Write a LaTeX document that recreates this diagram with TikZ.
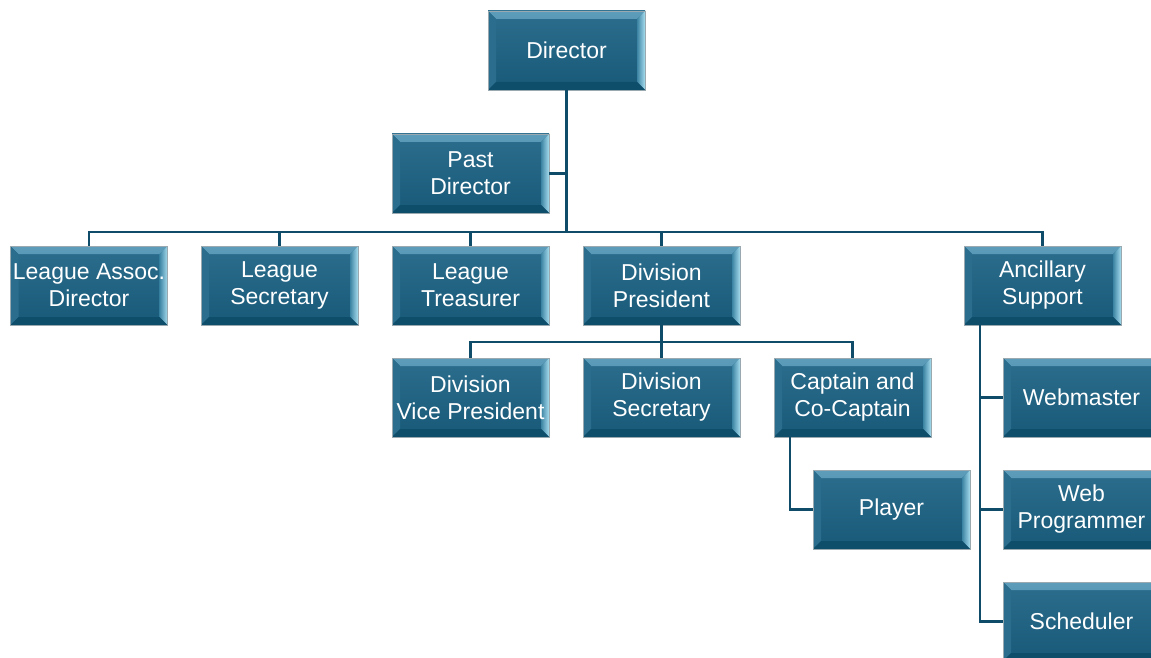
\documentclass[tikz,border=0pt]{standalone}
\usepackage{fontspec}
\setmainfont{Liberation Sans}
\usetikzlibrary{calc}
\definecolor{boxbody}{HTML}{1A6183}
\definecolor{boxtop}{HTML}{5E9DBA}
\definecolor{boxtopin}{HTML}{2D7193}
\definecolor{boxright}{HTML}{A6DCEE}
\definecolor{boxrightin}{HTML}{3C84A3}
\definecolor{boxleft}{HTML}{2A6D8D}
\definecolor{boxbottom}{HTML}{0F4E6B}
\definecolor{boxline}{HTML}{9AA8B0}
\definecolor{conncol}{HTML}{0F4C69}
\tikzset{
  x=1pt, y=1pt,
  orgbox/.style={minimum width=157pt, minimum height=79pt, inner sep=0pt,
    align=center, text=white, font=\fontsize{23}{27}\selectfont,
    top color=boxbody!92!white, bottom color=boxbody!92!black,
    draw=boxline, line width=0.6pt,
    path picture={
      \def\bv{8pt}
      \shade[top color=boxtop, bottom color=boxtopin] (path picture bounding box.north west) -- (path picture bounding box.north east)
        -- ([shift={(-\bv,-\bv)}]path picture bounding box.north east) -- ([shift={(\bv,-\bv)}]path picture bounding box.north west) -- cycle;
      \fill[boxleft] (path picture bounding box.north west) -- ([shift={(\bv,-\bv)}]path picture bounding box.north west)
        -- ([shift={(\bv,\bv)}]path picture bounding box.south west) -- (path picture bounding box.south west) -- cycle;
      \shade[left color=boxrightin, right color=boxright] (path picture bounding box.north east) -- ([shift={(-\bv,-\bv)}]path picture bounding box.north east)
        -- ([shift={(-\bv,\bv)}]path picture bounding box.south east) -- (path picture bounding box.south east) -- cycle;
      \fill[boxbottom] (path picture bounding box.south west) -- ([shift={(\bv,\bv)}]path picture bounding box.south west)
        -- ([shift={(-\bv,\bv)}]path picture bounding box.south east) -- (path picture bounding box.south east) -- cycle;
    }},
  conn/.style={draw=conncol, line width=2.6pt},
  trunk/.style={draw=conncol, line width=3.2pt}
}
\begin{document}
\begin{tikzpicture}
\useasboundingbox (0,0) rectangle (1151,-658);
% nodes
\node[orgbox] (dir) at (566.5,-50.5) {Director};
\node[orgbox] (pd) at (470.5,-173.5) {Past\\Director};
\node[orgbox] (lad) at (89,-285.5) {League Assoc.\\Director};
\node[orgbox] (ls) at (279.5,-285.5) {League\\Secretary};
\node[orgbox] (lt) at (470.5,-285.5) {League\\Treasurer};
\node[orgbox] (dp) at (661.5,-285.5) {Division\\President};
\node[orgbox] (as) at (1042.5,-285.5) {Ancillary\\Support};
\node[orgbox] (dvp) at (470.5,-397.5) {Division\\Vice President};
\node[orgbox] (dsec) at (661.5,-397.5) {Division\\Secretary};
\node[orgbox] (cap) at (852.5,-397.5) {Captain and\\Co-Captain};
\node[orgbox] (pl) at (891.5,-509.5) {Player};
\node[orgbox] (wm) at (1081.5,-397.5) {Webmaster};
\node[orgbox] (wp) at (1081.5,-509.5) {Web\\Programmer};
\node[orgbox] (sch) at (1081.5,-621.5) {Scheduler};
% connector points
\coordinate (bus) at (566.5,-232);
\coordinate (dbus) at (661.5,-342);
\coordinate (capx) at (790,-437);
\coordinate (asx) at (980,-325);
% connectors
\draw[trunk] (dir.south) -- (bus);
\draw[conn] (pd.east) -- (pd.east -| dir.south);
\draw[conn] (bus) -| (lad.north);
\draw[conn] (bus) -| (ls.north);
\draw[conn] (bus) -| (lt.north);
\draw[conn] (bus) -| (dp.north);
\draw[conn] (bus) -| (as.north);
\draw[conn] (dp.south) -- (dbus);
\draw[conn] (dbus) -| (dvp.north);
\draw[conn] (dbus) -| (dsec.north);
\draw[conn] (dbus) -| (cap.north);
\draw[conn] (capx) |- (pl.west);
\draw[conn] (asx) |- (wm.west);
\draw[conn] (asx) |- (wp.west);
\draw[conn] (asx) |- (sch.west);
\end{tikzpicture}
\end{document}
